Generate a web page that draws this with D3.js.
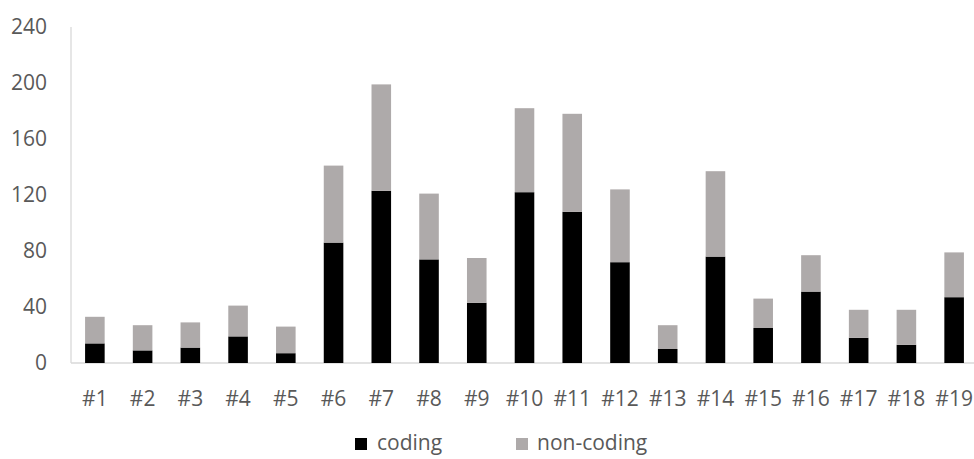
<!DOCTYPE html>
<html>
<head>
<meta charset="utf-8">
<script src="https://cdn.jsdelivr.net/npm/d3@7"></script>
<style>
  html, body { margin: 0; padding: 0; background: #fff; }
  svg { display: block; }
  text { font-family: "Open Sans", "Noto Sans", sans-serif; fill: #595959; }
</style>
</head>
<body>
<svg id="chart" width="974" height="459"></svg>
<script>
// Samples #1 to #19
const categories = ["#1","#2","#3","#4","#5","#6","#7","#8","#9","#10",
                    "#11","#12","#13","#14","#15","#16","#17","#18","#19"];
// Stacked counts per sample
const coding    = [14, 9, 11, 19, 7, 86, 123, 74, 43, 122, 108, 72, 10, 76, 25, 51, 18, 13, 47];
const nonCoding = [19, 18, 18, 22, 19, 55, 76, 47, 32, 60, 70, 52, 17, 61, 21, 26, 20, 25, 32];
const seriesNames = ["coding", "non-coding"];
const yTicks = [0, 40, 80, 120, 160, 200, 240];

const colors = { "coding": "#000000", "non-coding": "#aeaaaa" };
const fontSize = "21px";

const svg = d3.select("#chart");
const plot = { left: 71, right: 978, top: 27, bottom: 363 };

const x = d3.scaleBand()
  .domain(categories)
  .range([plot.left, plot.right])
  .paddingInner(0.59)
  .paddingOuter(0.295);

const y = d3.scaleLinear().domain([0, 240]).range([plot.bottom, plot.top]);

// Stack the two series
const rows = categories.map((c, i) => ({ cat: c, "coding": coding[i], "non-coding": nonCoding[i] }));
const stacked = d3.stack().keys(seriesNames)(rows);

// Axis lines
svg.append("line")
  .attr("x1", plot.left).attr("x2", plot.left).attr("y1", plot.top).attr("y2", plot.bottom)
  .attr("stroke", "#d9d9d9").attr("stroke-width", 1.3);
svg.append("line")
  .attr("x1", plot.left).attr("x2", 974).attr("y1", plot.bottom).attr("y2", plot.bottom)
  .attr("stroke", "#d9d9d9").attr("stroke-width", 1.3);

// Bars
svg.append("g").selectAll("g")
  .data(stacked)
  .join("g")
  .attr("fill", d => colors[d.key])
  .selectAll("rect")
  .data(d => d)
  .join("rect")
  .attr("x", d => x(d.data.cat))
  .attr("width", x.bandwidth())
  .attr("y", d => y(d[1]))
  .attr("height", d => y(d[0]) - y(d[1]));

// Y axis labels
const yAxis = d3.axisLeft(y).tickValues(yTicks).tickSize(0).tickPadding(24);
const gy = svg.append("g").attr("transform", `translate(${plot.left},0)`).call(yAxis);
gy.select(".domain").remove();
gy.selectAll("text").style("font-size", fontSize).attr("fill", "#595959")
  .style("font-family", '"Open Sans", sans-serif');

// X axis labels
const xAxis = d3.axisBottom(x).tickSize(0).tickPadding(28);
const gx = svg.append("g").attr("transform", `translate(0,${plot.bottom})`).call(xAxis);
gx.select(".domain").remove();
gx.selectAll("text").style("font-size", fontSize).attr("fill", "#595959")
  .style("font-family", '"Open Sans", sans-serif');

// Legend
const legendItems = [
  { name: "coding", sx: 355, tx: 377 },
  { name: "non-coding", sx: 516, tx: 537 }
];
const lg = svg.append("g");
lg.selectAll("rect")
  .data(legendItems)
  .join("rect")
  .attr("x", d => d.sx).attr("y", 438)
  .attr("width", 12).attr("height", 12)
  .attr("fill", d => colors[d.name]);
lg.selectAll("text")
  .data(legendItems)
  .join("text")
  .attr("x", d => d.tx).attr("y", 450)
  .style("font-size", fontSize)
  .text(d => d.name);
</script>
</body>
</html>
